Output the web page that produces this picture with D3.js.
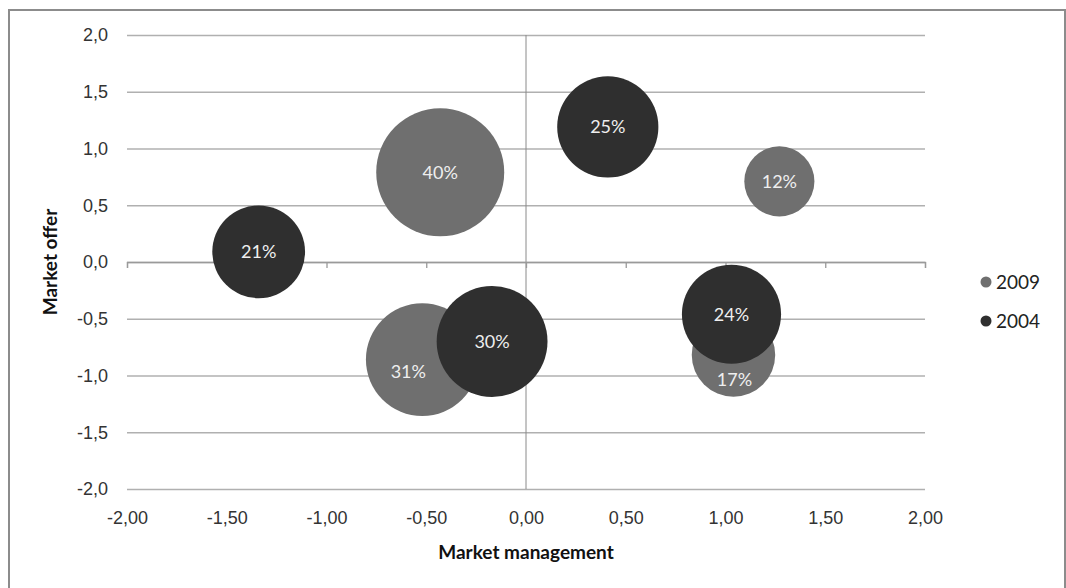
<!DOCTYPE html>
<html>
<head>
<meta charset="utf-8">
<script src="https://cdn.jsdelivr.net/npm/d3@7"></script>
<style>
  body { margin: 0; background: #fff; }
  svg { display: block; font-family: Lato, "Open Sans", sans-serif; }
  .grid line { stroke: #b0b0b0; stroke-width: 1.5; }
  .tick text { fill: #333; font-size: 18px; }
</style>
</head>
<body>
<div id="chart"></div>
<script>
// series and values
var series = ["2009", "2004"];
var x2009 = [-0.43, 1.27, -0.52, 1.04];
var y2009 = [0.79, 0.71, -0.86, -0.82];
var size2009 = [40, 12, 31, 17];
var x2004 = [-1.34, 0.41, -0.17, 1.03];
var y2004 = [0.09, 1.19, -0.70, -0.46];
var size2004 = [21, 25, 30, 24];
var xTicks = [-2, -1.5, -1, -0.5, 0, 0.5, 1, 1.5, 2];
var yTicks = [-2, -1.5, -1, -0.5, 0, 0.5, 1, 1.5, 2];

var colors = { "2009": "#6f6f6f", "2004": "#2f2f2f" };

var W = 1066, H = 588;
var margin = { left: 127, right: 141, top: 35, bottom: 99 };
var pw = W - margin.left - margin.right,
    ph = H - margin.top - margin.bottom;

var svg = d3.select("#chart").append("svg")
    .attr("width", W).attr("height", H);

// outer frame
svg.append("rect")
    .attr("x", 9).attr("y", 10)
    .attr("width", 1056).attr("height", 600)
    .attr("fill", "none").attr("stroke", "#8c8c8c").attr("stroke-width", 2);

var g = svg.append("g")
    .attr("transform", "translate(" + margin.left + "," + margin.top + ")");

var x = d3.scaleLinear().domain([-2, 2]).range([0, pw]);
var y = d3.scaleLinear().domain([-2, 2]).range([ph, 0]);
var r = d3.scaleSqrt().domain([0, 40]).range([0, 64]);

var comma = function(f){ return function(d){ return d3.format(f)(d).replace(".", ",").replace("\u2212", "-"); }; };

// horizontal gridlines + y labels
var yAxis = g.append("g").attr("class", "grid")
    .call(d3.axisLeft(y).tickValues(yTicks).tickSize(-pw).tickPadding(19).tickFormat(comma(".1f")));
yAxis.select(".domain").remove();

// x labels at the bottom
var xAxis = g.append("g").attr("class", "grid")
    .attr("transform", "translate(0," + ph + ")")
    .call(d3.axisBottom(x).tickValues(xTicks).tickSize(0).tickPadding(22).tickFormat(comma(".2f")));
xAxis.select(".domain").remove();

// crossing axes through zero
g.append("line")
    .attr("x1", x(0)).attr("x2", x(0)).attr("y1", 0).attr("y2", ph)
    .attr("stroke", "#8a8a8a").attr("stroke-width", 1);
g.append("g")
    .attr("transform", "translate(0," + y(0) + ")")
    .call(d3.axisBottom(x).tickValues(xTicks).tickSize(6).tickFormat(""))
    .call(function(s){
        s.selectAll("line, path").attr("stroke", "#9a9a9a").attr("stroke-width", 1.3);
    });

function rows(xs, ys, ss, name){
    return xs.map(function(v, i){ return { x: v, y: ys[i], s: ss[i], series: name }; });
}
var data = rows(x2009, y2009, size2009, "2009").concat(rows(x2004, y2004, size2004, "2004"));

g.selectAll("circle.bubble")
    .data(data)
    .enter()
    .append("circle")
    .attr("class", "bubble")
    .attr("cx", function(d){ return x(d.x); })
    .attr("cy", function(d){ return y(d.y); })
    .attr("r", function(d){ return r(d.s); })
    .attr("fill", function(d){ return colors[d.series]; });

// a label under a bubble drawn later is pushed away from it so it stays readable
function labelPos(d, i){
    var px = x(d.x), py = y(d.y);
    data.forEach(function(o, j){
        if (j <= i) return;
        var ox = x(o.x), oy = y(o.y);
        var dx = px - ox, dy = py - oy, dist = Math.sqrt(dx * dx + dy * dy);
        if (dist < r(o.s) + r(d.s)) {
            var push = Math.max(r(o.s) + 16 - dist, 18);
            px += dx / dist * push * 0.8;
            py += Math.max(dy / dist * push, 12);
        }
    });
    return [px, py];
}

g.selectAll("text.blabel")
    .data(data)
    .enter()
    .append("text")
    .attr("class", "blabel")
    .each(function(d, i){
        var p = labelPos(d, i);
        d3.select(this).attr("x", p[0]).attr("y", p[1]);
    })
    .attr("dy", "0.35em")
    .attr("text-anchor", "middle")
    .attr("fill", "#eeeeee")
    .style("font-size", "18px")
    .text(function(d){ return d.s + "%"; });

// axis titles
svg.append("text")
    .attr("x", margin.left + x(0)).attr("y", 559)
    .attr("text-anchor", "middle")
    .style("font-size", "19px").style("font-weight", "bold").attr("fill", "#111")
    .text("Market management");

svg.append("text")
    .attr("transform", "translate(57," + (margin.top + y(0)) + ") rotate(-90)")
    .attr("text-anchor", "middle")
    .style("font-size", "19px").style("font-weight", "bold").attr("fill", "#111")
    .text("Market offer");

// legend
var leg = svg.append("g").attr("transform", "translate(986,282)");
var item = leg.selectAll("g")
    .data(series)
    .enter()
    .append("g")
    .attr("transform", function(d, i){ return "translate(0," + (i * 39) + ")"; });
item.append("circle").attr("r", 5.5).attr("fill", function(d){ return colors[d]; });
item.append("text")
    .attr("x", 10).attr("dy", "0.35em")
    .style("font-size", "19px").attr("fill", "#222")
    .text(function(d){ return d; });
</script>
</body>
</html>
